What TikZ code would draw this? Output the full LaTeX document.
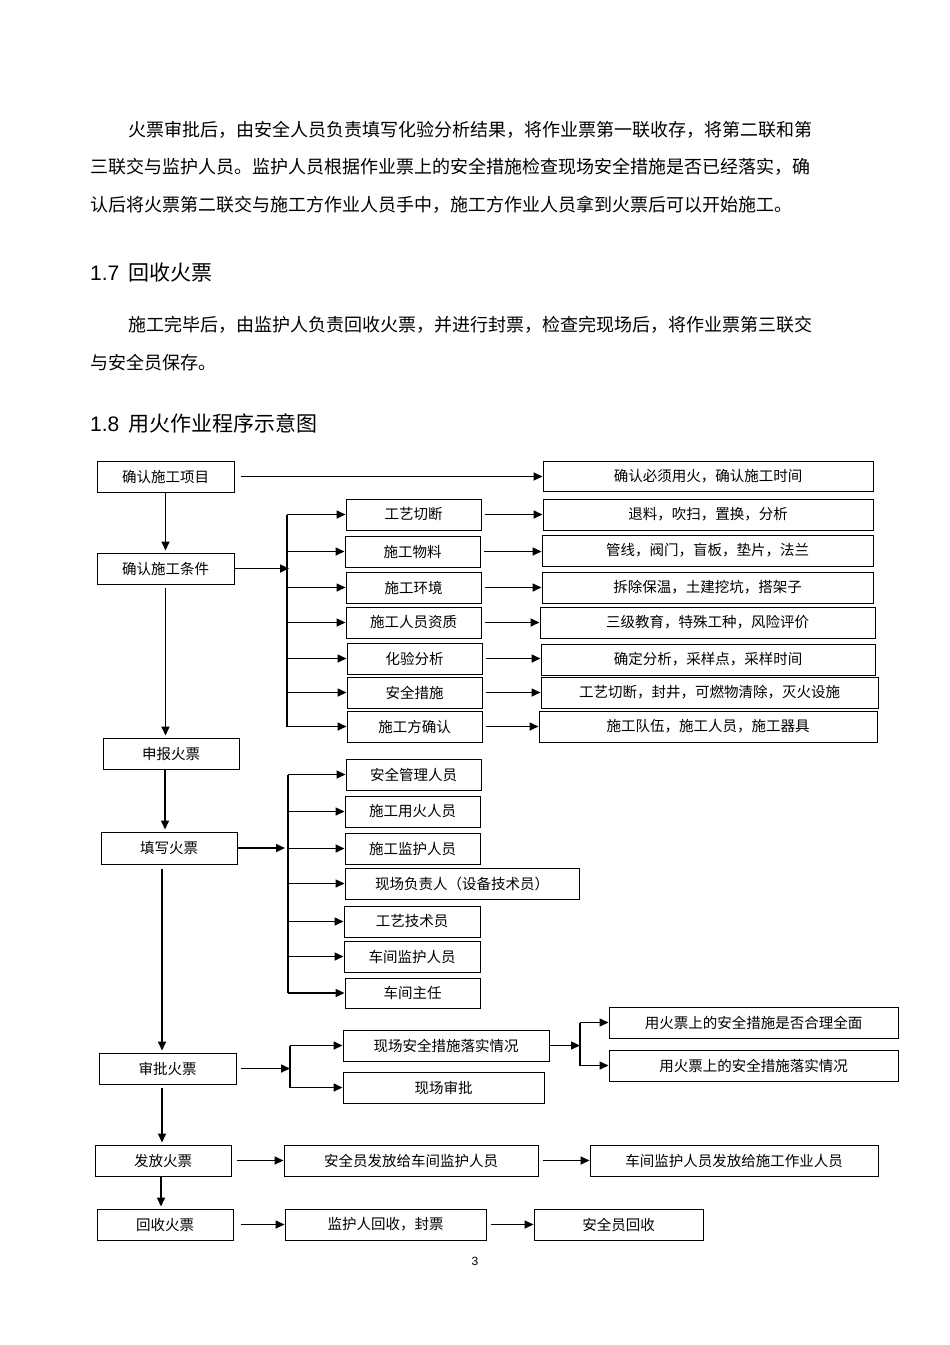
\documentclass[tikz,border=0pt]{standalone}
\usepackage{fontspec}
\setmainfont{Noto Sans CJK SC}
\newfontfamily\lat{Liberation Sans}
\usetikzlibrary{arrows.meta,shadows}
\begin{document}
\begin{tikzpicture}[x=1pt,y=-1pt,
  box/.style={draw, line width=1pt, fill=white, inner sep=0pt, minimum height=31pt,
    font=\fontsize{14.5}{16}\selectfont,
    drop shadow={shadow xshift=1pt,shadow yshift=-1pt,opacity=1,fill=black!70}},
  para/.style={anchor=west, inner sep=0pt, font=\fontsize{18}{20}\selectfont},
  head/.style={anchor=west, inner sep=0pt, font=\fontsize{21}{24}\selectfont},
  arr/.style={draw, line width=1.6pt, -{Triangle[length=9pt,width=8pt]}},
  bus/.style={draw, line width=1.6pt}]
\fill[white] (0,0) rectangle (950,1345);
\useasboundingbox (0,0) rectangle (950,1345);

% text
\node[para] (p1) at (128,130) {火票审批后，由安全人员负责填写化验分析结果，将作业票第一联收存，将第二联和第};
\node[para] (p2) at (90,167) {三联交与监护人员。监护人员根据作业票上的安全措施检查现场安全措施是否已经落实，确};
\node[para] (p3) at (90,205) {认后将火票第二联交与施工方作业人员手中，施工方作业人员拿到火票后可以开始施工。};
\node[head] (h1) at (90,273) {{\lat 1.7}\hspace{9pt}回收火票};
\node[para] (p4) at (128,325) {施工完毕后，由监护人负责回收火票，并进行封票，检查完现场后，将作业票第三联交};
\node[para] (p5) at (90,363) {与安全员保存。};
\node[head] (h2) at (90,423) {{\lat 1.8}\hspace{9pt}用火作业程序示意图};
\node[inner sep=0pt, font=\lat\fontsize{12}{14}\selectfont] (pg) at (475,1261) {3};

% left column
\node[box, minimum width=137pt] (L1) at (165.5,476.5) {确认施工项目};
\node[box, minimum width=137pt] (L2) at (165.5,568.5) {确认施工条件};
\node[box, minimum width=136pt] (L3) at (171,753.5) {申报火票};
\node[box, minimum width=136pt, minimum height=32pt] (L4) at (169,848) {填写火票};
\node[box, minimum width=137pt] (L5) at (167.5,1068.5) {审批火票};
\node[box, minimum width=136pt] (L6) at (163,1160.5) {发放火票};
\node[box, minimum width=136pt] (L7) at (165,1224.5) {回收火票};

% top right
\node[box, minimum width=330pt, minimum height=30pt] (T) at (708,476) {确认必须用火，确认施工时间};

% condition group
\node[box, minimum width=135pt] (M1) at (413.5,514.5) {工艺切断};
\node[box, minimum width=135pt] (M2) at (412.5,551.5) {施工物料};
\node[box, minimum width=135pt] (M3) at (413.5,587.5) {施工环境};
\node[box, minimum width=135pt] (M4) at (413.5,622.5) {施工人员资质};
\node[box, minimum width=135pt] (M5) at (414.5,658.5) {化验分析};
\node[box, minimum width=135pt] (M6) at (414.5,692.5) {安全措施};
\node[box, minimum width=135pt] (M7) at (414.5,726.5) {施工方确认};

\node[box, minimum width=330pt] (R1) at (708,514.5) {退料，吹扫，置换，分析};
\node[box, minimum width=331pt] (R2) at (707.5,550.5) {管线，阀门，盲板，垫片，法兰};
\node[box, minimum width=331pt] (R3) at (707.5,587.5) {拆除保温，土建挖坑，搭架子};
\node[box, minimum width=335pt] (R4) at (707.5,622.5) {三级教育，特殊工种，风险评价};
\node[box, minimum width=334pt] (R5) at (708,659.5) {确定分析，采样点，采样时间};
\node[box, minimum width=337pt] (R6) at (709.5,692.5) {工艺切断，封井，可燃物清除，灭火设施};
\node[box, minimum width=338pt] (R7) at (708,726.5) {施工队伍，施工人员，施工器具};

% personnel group
\node[box, minimum width=135pt] (P1) at (413.5,774.5) {安全管理人员};
\node[box, minimum width=135pt] (P2) at (412.5,811.5) {施工用火人员};
\node[box, minimum width=135pt] (P3) at (412.5,848.5) {施工监护人员};
\node[box, minimum width=234pt] (P4) at (462,883.5) {现场负责人（设备技术员）};
\node[box, minimum width=136pt] (P5) at (412,921.5) {工艺技术员};
\node[box, minimum width=136pt] (P6) at (412,956.5) {车间监护人员};
\node[box, minimum width=135pt, minimum height=30pt] (P7) at (412.5,993) {车间主任};

% approval group
\node[box, minimum width=206pt] (S1) at (446,1045.5) {现场安全措施落实情况};
\node[box, minimum width=201pt] (S2) at (443.5,1087.5) {现场审批};
\node[box, minimum width=289pt] (U1) at (753.5,1022.5) {用火票上的安全措施是否合理全面};
\node[box, minimum width=289pt] (U2) at (753.5,1065.5) {用火票上的安全措施落实情况};

% issue / recover rows
\node[box, minimum width=254pt] (F1) at (411,1160.5) {安全员发放给车间监护人员};
\node[box, minimum width=288pt] (F2) at (734,1160.5) {车间监护人员发放给施工作业人员};
\node[box, minimum width=201pt] (G1) at (385.5,1224.5) {监护人回收，封票};
\node[box, minimum width=169pt] (G2) at (618.5,1224.5) {安全员回收};

% main spine
\draw[arr, shorten <=6pt] (L1.east) -- (L1.east -| T.west);
\draw[arr, shorten >=2pt] (L1.south) -- (L1.south |- L2.north);
\draw[arr, shorten <=3pt, shorten >=2pt] (L2.south) -- (L2.south |- L3.north);
\draw[arr, shorten >=2pt] ([xshift=-6pt]L3.south) -- ([xshift=-6pt]L3.south |- L4.north);
\draw[arr, shorten <=4pt, shorten >=2pt] ([xshift=-7pt]L4.south) -- ([xshift=-7pt]L4.south |- L5.north);
\draw[arr, shorten <=3pt, shorten >=2pt] ([xshift=-5.5pt]L5.south) -- ([xshift=-5.5pt]L5.south |- L6.north);
\draw[arr, shorten >=2pt] ([xshift=-2pt]L6.south) -- ([xshift=-2pt]L6.south |- L7.north);

% bus 1
\coordinate (b1) at (287,0);
\draw[arr] (L2.east) -- ([xshift=2pt]b1 |- L2.east);
\draw[bus] (b1 |- M1) -- (b1 |- M7);
\foreach \i in {1,...,7} {
  \draw[arr] (b1 |- M\i) -- (M\i.west);
  \draw[arr, shorten <=3pt] (M\i.east) -- (M\i.east -| R\i.west);
}

% bus 2
\coordinate (b2) at (288,0);
\draw[arr] (L4.east) -- ([xshift=-3pt]b2 |- L4.east);
\draw[bus] (b2 |- P1) -- (b2 |- P7);
\foreach \i in {1,...,7} {
  \draw[arr] (b2 |- P\i) -- (b2 |- P\i -| P\i.west);
}

% bus 3
\coordinate (b3) at (290,0);
\draw[arr, shorten <=4pt] (L5.east) -- (b3 |- L5.east);
\draw[bus] (b3 |- S1) -- (b3 |- S2);
\draw[arr] (b3 |- S1) -- (S1.west);
\draw[arr] (b3 |- S2) -- (S2.west);

% bus 4
\coordinate (b4) at (580,0);
\draw[arr] (S1.east) -- (b4 |- S1.east);
\draw[bus] (b4 |- U1) -- (b4 |- U2);
\draw[arr] (b4 |- U1) -- (U1.west);
\draw[arr] (b4 |- U2) -- (U2.west);

% rows
\draw[arr, shorten <=5pt] (L6.east) -- (F1.west);
\draw[arr, shorten <=4pt] (F1.east) -- (F2.west);
\draw[arr, shorten <=7pt] (L7.east) -- (G1.west);
\draw[arr, shorten <=4pt] (G1.east) -- (G2.west);
\end{tikzpicture}
\end{document}
